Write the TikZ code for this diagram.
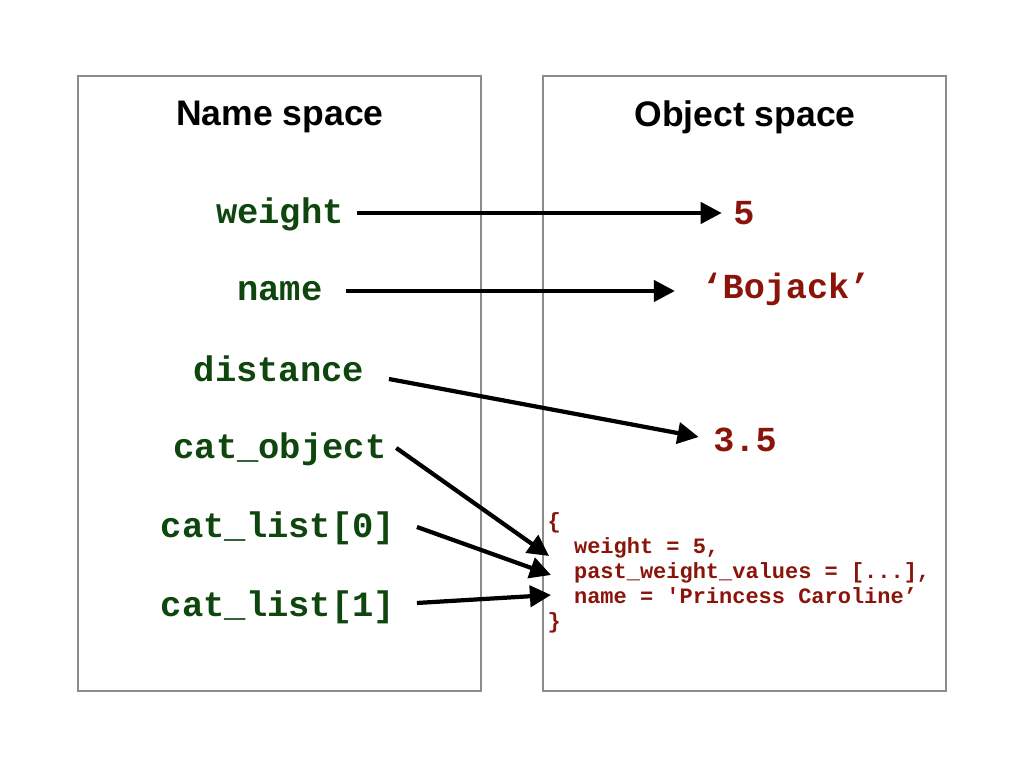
\documentclass[tikz,border=0pt]{standalone}
\usepackage{fontspec}
\setmainfont{Liberation Sans}
\newfontfamily\codefont{Liberation Mono}
\usetikzlibrary{arrows.meta,calc}

\definecolor{namegreen}{RGB}{14,70,14}
\definecolor{objred}{RGB}{138,20,10}

\tikzset{
  space/.style={draw=gray!90, line width=0.5pt},
  title/.style={font=\fontsize{10.1}{12}\selectfont\bfseries},
  varname/.style={inner sep=0pt, text=namegreen, font=\fontsize{10.1}{12}\selectfont\codefont\bfseries},
  value/.style={inner sep=0pt, text=objred, font=\fontsize{10}{12}\selectfont\codefont\bfseries},
  objblock/.style={inner sep=0pt, align=left, text=objred, font=\fontsize{6.25}{7.1}\selectfont\codefont\bfseries},
  ref/.style={line width=1.2pt, -{Triangle[length=6pt,width=6pt]}}
}

\begin{document}
\begin{tikzpicture}[x=0.01cm, y=-0.01cm]
  \useasboundingbox (0,0) rectangle (1024,768);

  \draw[space] (78,76) rectangle (481,691);
  \draw[space] (543,76) rectangle (946,691);

  \node[title] (nstitle) at (280,117) {Name space};
  \node[title] (ostitle) at (745,117) {Object space};

  \node[varname] (weight) at (280,214) {weight};
  \node[varname] (name) at (280,291) {name};
  \node[varname] (distance) at (279,369) {distance};
  \node[varname] (catobj) at (280,449) {cat\_object};
  \node[varname] (catlist0) at (278,528) {cat\_list[0]};
  \node[varname] (catlist1) at (278,607) {cat\_list[1]};

  \node[value] (five) at (744,213) {5};
  \node[value] (bojack) at (786,289) {‘Bojack’};
  \node[value] (threefive) at (745,440) {3.5};
  \node[objblock, anchor=west] (cat) at (547,573) {\{\\
    \phantom{xx}weight = 5,\\
    \phantom{xx}past\_weight\_values = [...],\\
    \phantom{xx}name = 'Princess Caroline’\\
    \}};

  \draw[ref] ($(weight.east)+(12,-1)$) -- ($(five.west)+(-11,0)$);
  \draw[ref] ($(name.east)+(23,0)$) -- ($(bojack.west)+(-26,2)$);
  \draw[ref] ($(distance.east)+(24,10)$) -- ($(threefive.west)+(-14,-3)$);
  \draw[ref] ($(catobj.east)+(9,-1)$) -- ($(cat.west)+(2,-17)$);
  \draw[ref] ($(catlist0.east)+(21,-1)$) -- ($(cat.west)+(4,2)$);
  \draw[ref] ($(catlist1.east)+(21,-4)$) -- ($(cat.west)+(4,22)$);
\end{tikzpicture}
\end{document}
